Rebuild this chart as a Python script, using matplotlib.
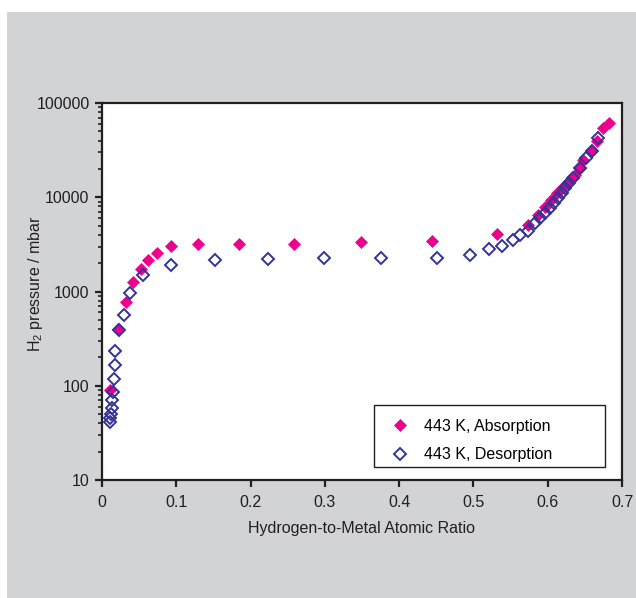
import matplotlib
matplotlib.use("Agg")
import matplotlib.pyplot as plt
from matplotlib.patches import Rectangle
from matplotlib.ticker import LogLocator, FixedLocator, NullFormatter

plt.rcParams['font.family'] = ['Liberation Sans', 'DejaVu Sans']
plt.rcParams['mathtext.fontset'] = 'custom'
plt.rcParams['mathtext.rm'] = 'Liberation Sans'
plt.rcParams['mathtext.it'] = 'Liberation Sans'

# Absorption (filled) data
abs_x = [0.011, 0.021, 0.032, 0.042, 0.052, 0.062, 0.074, 0.093, 0.129, 0.184,
         0.259, 0.348, 0.444, 0.532, 0.574, 0.587, 0.597, 0.605, 0.613, 0.621,
         0.629, 0.637, 0.643, 0.648, 0.658, 0.667, 0.674, 0.682]
abs_y = [90, 400, 780, 1270, 1730, 2160, 2580, 3060, 3215, 3215,
         3190, 3330, 3460, 4070, 5080, 6480, 7800, 9350, 11000, 12900,
         14800, 17200, 20500, 24800, 31000, 40000, 54300, 60900]

# Desorption (open) data
des_x = [0.011, 0.011, 0.012, 0.013, 0.014, 0.015, 0.016, 0.017, 0.018, 0.023,
         0.029, 0.038, 0.055, 0.093, 0.152, 0.224, 0.299, 0.376, 0.451, 0.495,
         0.521, 0.539, 0.553, 0.563, 0.574, 0.583, 0.590, 0.596, 0.603, 0.608,
         0.614, 0.619, 0.623, 0.628, 0.634, 0.643, 0.652, 0.659, 0.668]
des_y = [41, 45, 50, 58, 70, 86, 117, 166, 235, 390,
         563, 957, 1500, 1910, 2160, 2210, 2285, 2285, 2285, 2440,
         2800, 3060, 3520, 3980, 4385, 5290, 5980, 6760, 7640, 8630,
         9750, 11000, 12450, 14060, 15900, 20300, 25900, 31200, 42200]

x_ticks = [0, 0.1, 0.2, 0.3, 0.4, 0.5, 0.6, 0.7]
x_labels = ['0', '0.1', '0.2', '0.3', '0.4', '0.5', '0.6', '0.7']
y_ticks = [10, 100, 1000, 10000, 100000]
y_labels = ['10', '100', '1000', '10000', '100000']

pink = '#EC008C'
blue = '#333399'
gray = '#D1D3D4'
dark = '#231F20'
fs = 11.5

fig = plt.figure(figsize=(6.36, 5.98), dpi=100, facecolor='white')
fig.patches.append(Rectangle((7/636, 0), 1 - 7/636, (598 - 12)/598,
                             transform=fig.transFigure, facecolor=gray,
                             edgecolor='none', zorder=-10))

ax = fig.add_axes([102/636, (598-480)/598, (622-102)/636, (480-103)/598])
ax.set_facecolor('white')

ax.plot(abs_x, abs_y, linestyle='none', marker='D', markersize=6.2,
        markerfacecolor=pink, markeredgecolor=pink, markeredgewidth=0.5,
        label='443 K, Absorption', zorder=3)
ax.plot(des_x, des_y, linestyle='none', marker='D', markersize=6.4,
        markerfacecolor='none', markeredgecolor=blue, markeredgewidth=1.4,
        label='443 K, Desorption', zorder=4)

ax.set_yscale('log')
ax.set_xlim(0, 0.7)
ax.set_ylim(10, 100000)
ax.xaxis.set_major_locator(FixedLocator(x_ticks))
ax.set_xticklabels(x_labels)
ax.yaxis.set_major_locator(FixedLocator(y_ticks))
ax.set_yticklabels(y_labels)
ax.yaxis.set_minor_locator(LogLocator(base=10, subs=range(2, 10)))
ax.yaxis.set_minor_formatter(NullFormatter())

for s in ax.spines.values():
    s.set_linewidth(1.6)
    s.set_color(dark)

ax.tick_params(axis='both', which='major', direction='out', length=5, width=1.6,
               color=dark, labelsize=fs, labelcolor=dark)
ax.tick_params(axis='x', which='major', pad=6)
ax.tick_params(axis='y', which='major', pad=4)
ax.tick_params(axis='y', which='minor', direction='out', length=3, width=1.2,
               color=dark)

ax.set_xlabel('Hydrogen-to-Metal Atomic Ratio', fontsize=fs, color=dark, labelpad=8)
ax.set_ylabel('H$_2$ pressure / mbar', fontsize=fs, color=dark)
ax.yaxis.set_label_coords(-0.11, 0.52)

# legend frame drawn manually to match the reference box
lx0, ly0 = (374-102)/520, (480-467)/377
lw, lh = (605-374)/520, (467-405)/377
ax.add_patch(Rectangle((lx0, ly0), lw, lh, transform=ax.transAxes,
                       facecolor='white', edgecolor=dark, linewidth=1.0,
                       zorder=5))
leg = ax.legend(loc='upper left', bbox_to_anchor=(lx0, ly0 + lh), fontsize=fs,
                frameon=False, borderpad=0.85, labelspacing=0.85,
                handletextpad=0.7, handlelength=1.6, borderaxespad=0)
leg.set_zorder(6)

fig.savefig('out.png', dpi=100, facecolor=fig.get_facecolor())
